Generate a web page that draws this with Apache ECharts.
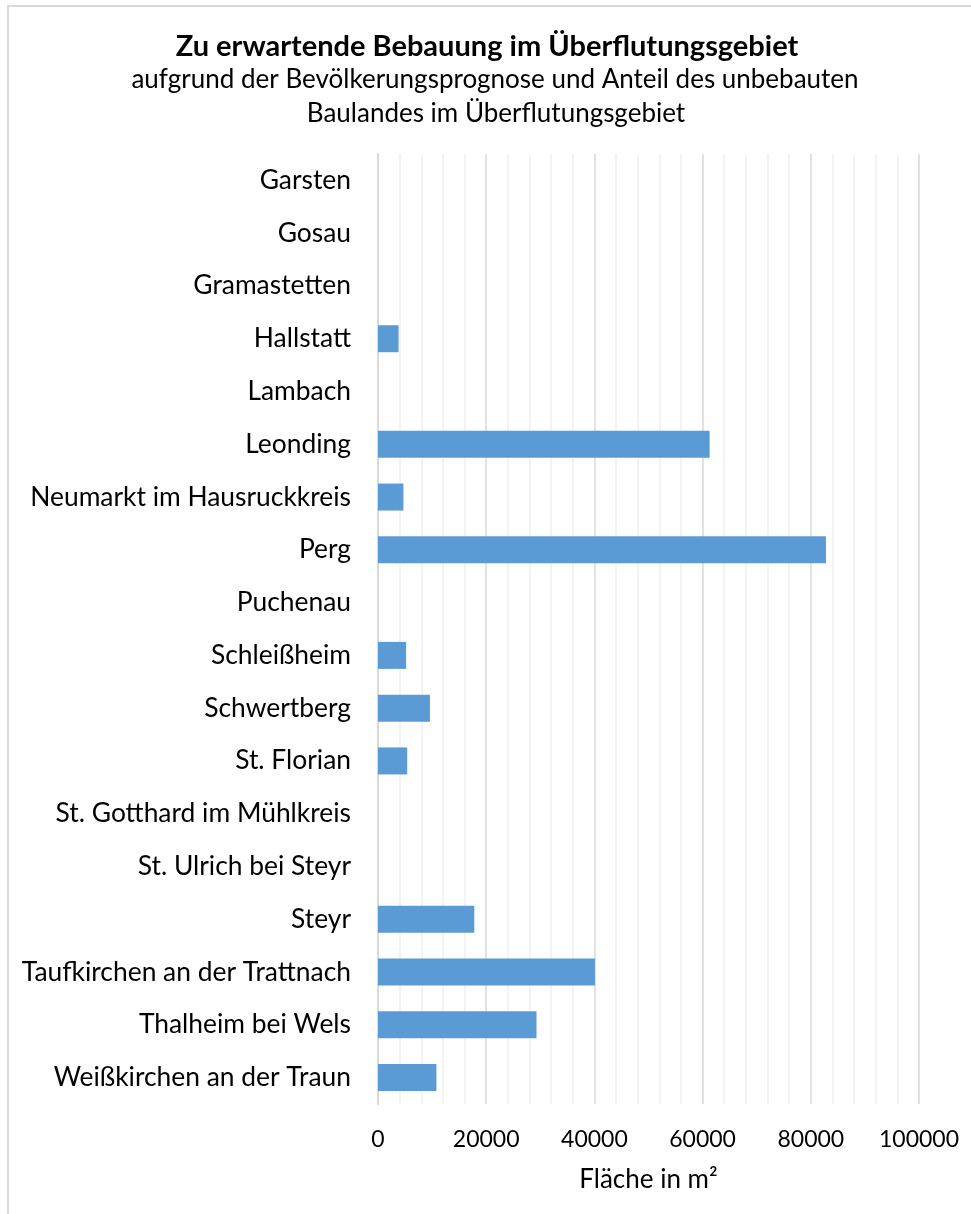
<!DOCTYPE html>
<html>
<head>
<meta charset="utf-8">
<script src="https://cdn.jsdelivr.net/npm/echarts@6/dist/echarts.min.js"></script>
<style>
  html, body { margin: 0; padding: 0; background: #fff; }
  #chart { width: 971px; height: 1214px; }
</style>
</head>
<body>
<div id="chart"></div>
<script>
// Gemeinden (top to bottom)
const gemeinden = [
  'Garsten', 'Gosau', 'Gramastetten', 'Hallstatt', 'Lambach', 'Leonding',
  'Neumarkt im Hausruckkreis', 'Perg', 'Puchenau', 'Schleißheim', 'Schwertberg',
  'St. Florian', 'St. Gotthard im Mühlkreis', 'St. Ulrich bei Steyr', 'Steyr',
  'Taufkirchen an der Trattnach', 'Thalheim bei Wels', 'Weißkirchen an der Traun'
];
// Zu erwartende bebaute Fläche in m²
const flaeche = [
  0, 0, 0, 3800, 0, 61300,
  4700, 82800, 0, 5200, 9600,
  5400, 0, 0, 17800,
  40100, 29300, 10800
];
const xTicks = [0, 20000, 40000, 60000, 80000, 100000];

const font = 'Lato, "Open Sans", sans-serif';
const chart = echarts.init(document.getElementById('chart'), null, { renderer: 'canvas' });

chart.setOption({
  backgroundColor: '#ffffff',
  animation: false,
  title: [
    {
      text: 'Zu erwartende Bebauung im Überflutungsgebiet',
      left: 482, top: 27, textAlign: 'center',
      textStyle: { fontFamily: font, fontSize: 29, fontWeight: 'bold', color: '#000' }
    },
    {
      text: 'aufgrund der Bevölkerungsprognose und Anteil des unbebauten',
      left: 490, top: 62, textAlign: 'center',
      textStyle: { fontFamily: font, fontSize: 26, fontWeight: 'normal', color: '#000' }
    },
    {
      text: 'Baulandes im Überflutungsgebiet',
      left: 491, top: 96, textAlign: 'center',
      textStyle: { fontFamily: font, fontSize: 26, fontWeight: 'normal', color: '#000' }
    }
  ],
  graphic: [
    {
      type: 'rect',
      shape: { x: 8, y: 6, width: 1000, height: 1300 },
      style: { fill: 'none', stroke: '#d9d9d9', lineWidth: 2 },
      silent: true
    }
  ],
  grid: { left: 378, right: 52, top: 154, bottom: 110, containLabel: false },
  xAxis: {
    type: 'value',
    min: 0, max: 100000, interval: 20000,
    name: 'Fläche in m²',
    nameLocation: 'middle',
    nameGap: 63,
    nameTextStyle: { fontFamily: font, fontSize: 26, color: '#000' },
    axisLine: { show: false },
    axisTick: { show: false },
    axisLabel: {
      fontFamily: font, fontSize: 23, color: '#000', margin: 24,
      formatter: v => xTicks.includes(v) ? String(v) : ''
    },
    splitLine: { show: true, lineStyle: { color: '#d9d9d9', width: 1.5 } },
    minorTick: { show: false, splitNumber: 5 },
    minorSplitLine: { show: true, lineStyle: { color: '#efefef', width: 1.5 } }
  },
  yAxis: {
    type: 'category',
    data: gemeinden,
    inverse: true,
    axisLine: { show: true, lineStyle: { color: '#d9d9d9', width: 2 } },
    axisTick: { show: false },
    axisLabel: { fontFamily: font, fontSize: 26.4, color: '#000', margin: 27 },
    splitLine: { show: false }
  },
  series: [
    {
      type: 'bar',
      data: flaeche,
      barWidth: 27,
      itemStyle: { color: '#5b9bd5' },
      emphasis: { disabled: true }
    }
  ]
});
</script>
</body>
</html>
